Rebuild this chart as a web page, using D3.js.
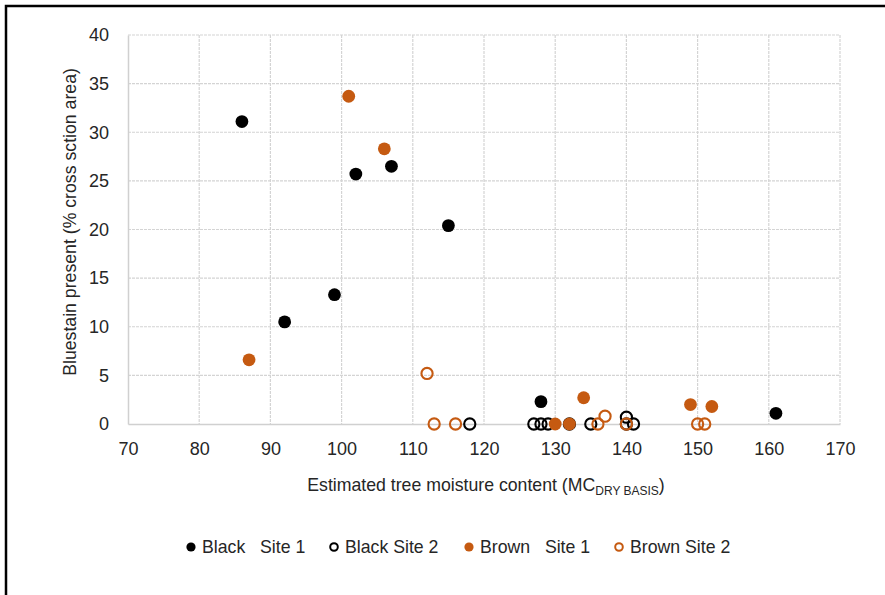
<!DOCTYPE html>
<html>
<head>
<meta charset="utf-8">
<script src="https://cdn.jsdelivr.net/npm/d3@7/dist/d3.min.js"></script>
<style>
  html, body { margin: 0; padding: 0; background: #fff; }
  svg text { font-family: "Liberation Sans", Arial, sans-serif; fill: #262626; }
</style>
</head>
<body>
<svg id="chart" width="885" height="595"></svg>
<script>
// Moisture content (x) and bluestain coverage (y) for each series
const blackSite1X = [86, 92, 99, 102, 107, 115, 128, 161];
const blackSite1Y = [31.1, 10.5, 13.3, 25.7, 26.5, 20.4, 2.3, 1.1];
const blackSite2X = [118, 127, 128, 129, 132, 135, 140, 140, 141];
const blackSite2Y = [0, 0, 0, 0, 0, 0, 0.7, 0, 0];
const brownSite1X = [87, 101, 106, 130, 132, 134, 149, 152];
const brownSite1Y = [6.6, 33.7, 28.3, 0, 0, 2.7, 2.0, 1.8];
const brownSite2X = [112, 113, 116, 136, 137, 140, 150, 151];
const brownSite2Y = [5.2, 0, 0, 0, 0.8, 0, 0, 0];

const xTicks = [70, 80, 90, 100, 110, 120, 130, 140, 150, 160, 170];
const yTicks = [0, 5, 10, 15, 20, 25, 30, 35, 40];

const seriesNames = ["Black   Site 1", "Black Site 2", "Brown   Site 1", "Brown Site 2"];
const BLACK = "#000000", BROWN = "#C55A11";

const series = [
  { name: seriesNames[0], xs: blackSite1X, ys: blackSite1Y, color: BLACK, filled: true },
  { name: seriesNames[1], xs: blackSite2X, ys: blackSite2Y, color: BLACK, filled: false },
  { name: seriesNames[2], xs: brownSite1X, ys: brownSite1Y, color: BROWN, filled: true },
  { name: seriesNames[3], xs: brownSite2X, ys: brownSite2Y, color: BROWN, filled: false }
];

const svg = d3.select("#chart");

// outer chart frame (only top and left edges fall inside the canvas)
svg.append("rect")
  .attr("x", 6).attr("y", 6).attr("width", 1000).attr("height", 1000)
  .attr("fill", "none").attr("stroke", "#000").attr("stroke-width", 2.5);

const plot = { left: 128, right: 840, top: 35, bottom: 424 };
const x = d3.scaleLinear().domain([70, 170]).range([plot.left, plot.right]);
const y = d3.scaleLinear().domain([0, 40]).range([plot.bottom, plot.top]);

// gridlines
const grid = svg.append("g");
grid.selectAll("line.v").data(xTicks.slice(1)).join("line")
  .attr("x1", d => x(d)).attr("x2", d => x(d))
  .attr("y1", plot.top).attr("y2", plot.bottom)
  .attr("stroke", "#d4d4d4").attr("stroke-width", 1.2).attr("stroke-dasharray", "3,1");
grid.selectAll("line.h").data(yTicks.slice(1)).join("line")
  .attr("x1", plot.left).attr("x2", plot.right)
  .attr("y1", d => y(d)).attr("y2", d => y(d))
  .attr("stroke", "#d4d4d4").attr("stroke-width", 1.2).attr("stroke-dasharray", "3,1");

// axes
const xAxis = svg.append("g").attr("transform", `translate(0,${plot.bottom})`)
  .call(d3.axisBottom(x).tickValues(xTicks).tickSize(0).tickPadding(18));
const yAxis = svg.append("g").attr("transform", `translate(${plot.left},0)`)
  .call(d3.axisLeft(y).tickValues(yTicks).tickSize(0).tickPadding(19));
[xAxis, yAxis].forEach(a => {
  a.select(".domain").attr("stroke", "#d0d0d0").attr("stroke-width", 1.5);
  a.selectAll("text").attr("font-size", 18).attr("fill", "#262626")
    .attr("font-family", "'Liberation Sans', Arial, sans-serif");
});

// points
series.forEach(s => {
  const pts = s.xs.map((v, i) => [v, s.ys[i]]);
  svg.append("g").selectAll("circle").data(pts).join("circle")
    .attr("cx", d => x(d[0])).attr("cy", d => y(d[1]))
    .attr("r", s.filled ? 6.4 : 5.6)
    .attr("fill", s.filled ? s.color : "none")
    .attr("stroke", s.filled ? "none" : s.color)
    .attr("stroke-width", 2.1);
});

// axis titles
const xTitle = svg.append("text")
  .attr("x", (plot.left + plot.right) / 2 + 2).attr("y", 491)
  .attr("text-anchor", "middle").attr("font-size", 17.7);
xTitle.append("tspan").text("Estimated tree moisture content (MC");
xTitle.append("tspan").attr("font-size", 12).attr("dy", 4).text("DRY BASIS");
xTitle.append("tspan").attr("dy", -4).text(")");

svg.append("text")
  .attr("transform", `translate(76,222) rotate(-90)`)
  .attr("text-anchor", "middle").attr("font-size", 17.7)
  .text("Bluestain present (% cross sction area)");

// legend
const legendX = [191, 334, 469, 619];
const legend = svg.append("g");
series.forEach((s, i) => {
  const g = legend.append("g").attr("transform", `translate(${legendX[i]},547)`);
  g.append("circle").attr("r", s.filled ? 4.6 : 3.8)
    .attr("fill", s.filled ? s.color : "none")
    .attr("stroke", s.filled ? "none" : s.color).attr("stroke-width", 2);
  g.append("text").attr("x", 11).attr("y", 6).attr("font-size", 17.7)
    .style("white-space", "pre").attr("xml:space", "preserve").text(s.name);
});
</script>
</body>
</html>
